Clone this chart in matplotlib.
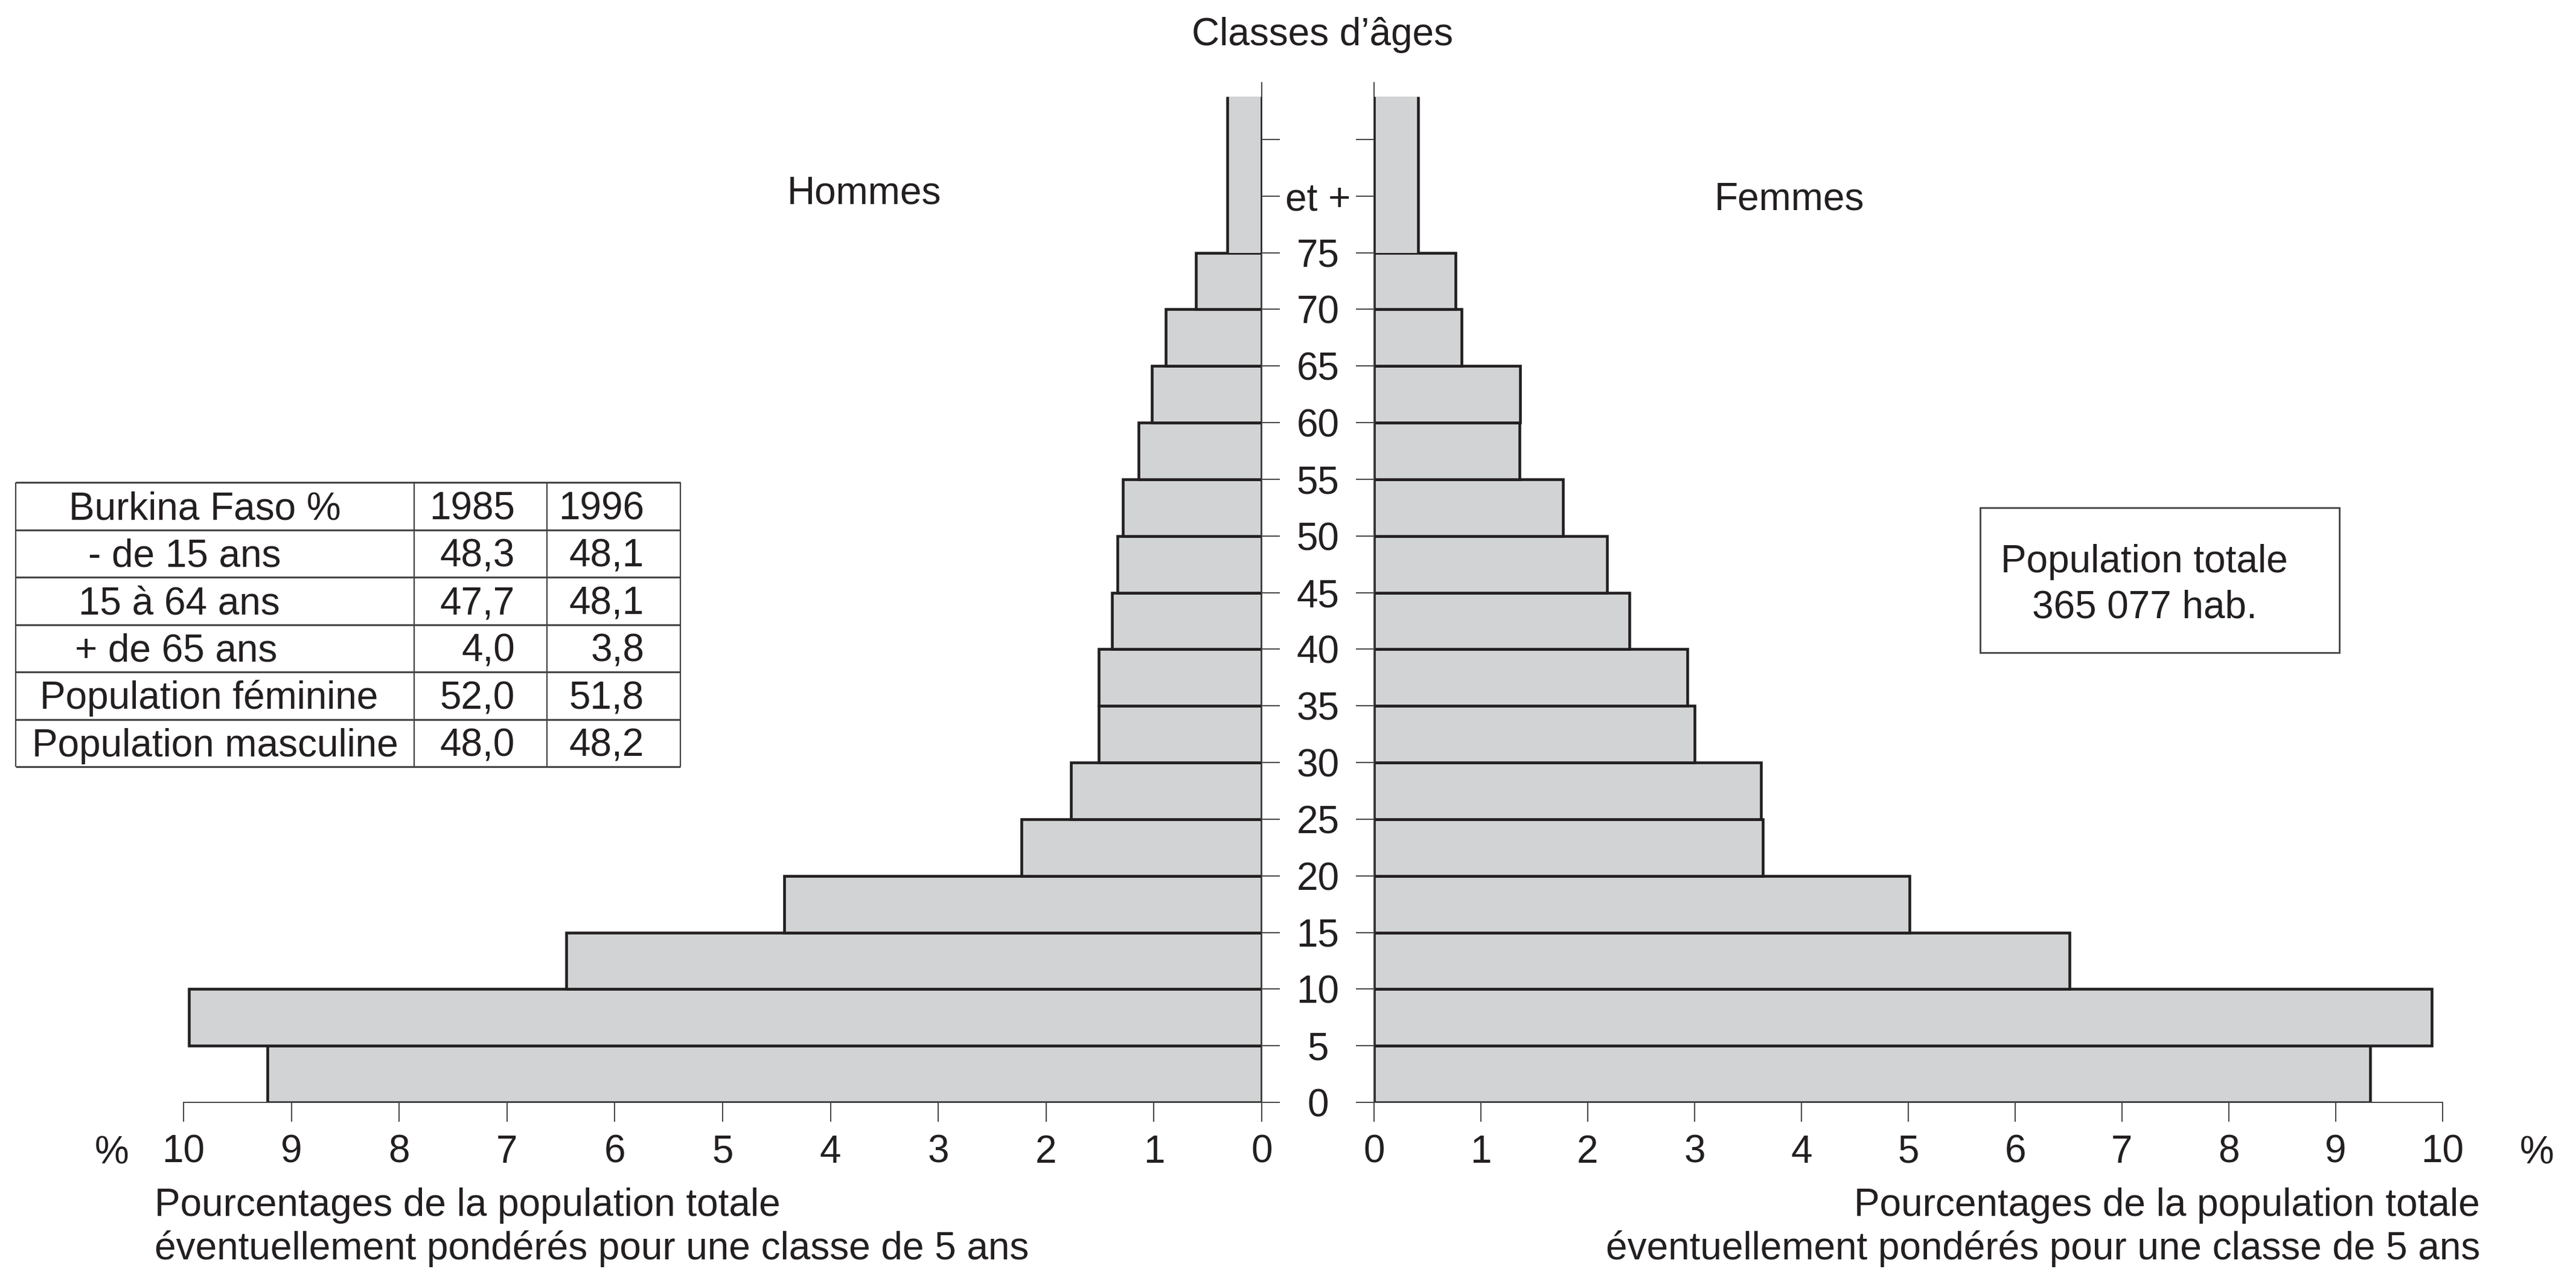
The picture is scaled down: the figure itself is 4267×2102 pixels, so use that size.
import matplotlib
matplotlib.use('Agg')
import matplotlib.pyplot as plt
from matplotlib.patches import Rectangle

plt.rcParams['font.family'] = ['Liberation Sans', 'DejaVu Sans']

# age classes (lower / upper bound of each bar, last class "75 et +" is weighted)
age_lower = [0, 5, 10, 15, 20, 25, 30, 35, 40, 45, 50, 55, 60, 65, 70, 75]
age_upper = [5, 10, 15, 20, 25, 30, 35, 40, 45, 50, 55, 60, 65, 70, 75, 88.8]
age_ticks = [0, 5, 10, 15, 20, 25, 30, 35, 40, 45, 50, 55, 60, 65, 70, 75, 80, 85]
age_labels = ['0', '5', '10', '15', '20', '25', '30', '35', '40', '45', '50',
              '55', '60', '65', '70', '75', 'et +', '']

# % of total population per class
hommes = [9.22, 9.95, 6.45, 4.43, 2.23, 1.77, 1.51, 1.51, 1.39, 1.34, 1.29,
          1.14, 1.02, 0.89, 0.61, 0.32]
femmes = [9.32, 9.90, 6.51, 5.01, 3.64, 3.62, 3.00, 2.93, 2.39, 2.18, 1.77,
          1.36, 1.37, 0.82, 0.76, 0.41]
pct_ticks = [0, 1, 2, 3, 4, 5, 6, 7, 8, 9, 10]

table_rows = ['Burkina Faso %', '- de 15 ans', '15 à 64 ans', '+ de 65 ans',
              'Population féminine', 'Population masculine']
table_1985 = ['1985', '48,3', '47,7', '4,0', '52,0', '48,0']
table_1996 = ['1996', '48,1', '48,1', '3,8', '51,8', '48,2']

W, H = 4267, 2102
FS = 46
INK = '#231f20'
FILL = '#d1d3d4'
AX = '#444444'

fig = plt.figure(figsize=(W / 100, H / 100), dpi=100)
fig.patch.set_facecolor('white')

y0, y1 = 1826, 137
ax_m = fig.add_axes([304 / W, 1 - y0 / H, 1786 / W, (y0 - y1) / H])
ax_f = fig.add_axes([2276 / W, 1 - y0 / H, 1770 / W, (y0 - y1) / H])

heights = [u - l for l, u in zip(age_lower, age_upper)]

for ax, vals in ((ax_m, hommes), (ax_f, femmes)):
    bars = ax.barh(age_lower, vals, height=heights, align='edge', color=FILL,
                   edgecolor=INK, linewidth=3.3, zorder=2)
    # open-topped last class
    bars[-1].set_edgecolor('none')
    ax.vlines([0, vals[-1]], age_lower[-1], age_upper[-1], colors=INK,
              linewidth=3.3, zorder=3)
    ax.set_ylim(0, 90)
    ax.set_yticks(age_ticks)
    ax.set_xticks(pct_ticks)
    ax.set_xticklabels([str(t) for t in pct_ticks])
    ax.tick_params(axis='x', direction='out', length=23, width=1.4,
                   color=AX, pad=15, labelsize=FS, labelcolor=INK)
    ax.tick_params(axis='y', direction='out', length=21.6, width=1.4,
                   color=AX, labelsize=FS, labelcolor=INK)
    ax.spines['top'].set_visible(False)
    for s in ax.spines.values():
        s.set_color(AX)
        s.set_linewidth(1.4)
    ax.set_facecolor('none')

ax_m.set_xlim(10, 0)
ax_m.spines['left'].set_visible(False)
ax_m.yaxis.tick_right()
ax_m.set_yticklabels([])

ax_f.set_xlim(0, 10)
ax_f.spines['right'].set_visible(False)
ax_f.set_yticklabels(age_labels)
ax_f.tick_params(axis='y', pad=45.4)
for lab in ax_f.get_yticklabels():
    lab.set_horizontalalignment('center')

# overlay in pixel coordinates for the annotations
ov = fig.add_axes([0, 0, 1, 1])
ov.set_xlim(0, W)
ov.set_ylim(H, 0)
ov.axis('off')

def txt(x, y, s, ha='center'):
    ov.text(x, y, s, ha=ha, va='baseline', fontsize=FS, color=INK)

txt(2190, 75, 'Classes d’âges')
txt(1431, 338, 'Hommes')
txt(2964, 347, 'Femmes')

ov.add_patch(Rectangle((3280, 841), 595, 240, fill=False, edgecolor=AX,
                       linewidth=2))
txt(3552, 948, 'Population totale')
txt(3552, 1023, '365 077 hab.')

txt(185, 1928, '%')
txt(4202, 1928, '%')

txt(256, 2014, 'Pourcentages de la population totale', ha='left')
txt(256, 2086, 'éventuellement pondérés pour une classe de 5 ans', ha='left')
txt(4108, 2014, 'Pourcentages de la population totale', ha='right')
txt(4108, 2086, 'éventuellement pondérés pour une classe de 5 ans', ha='right')

# summary table
tx = [26, 686, 906, 1127]
ty_top, row_h = 799, 78.5
n = len(table_rows)
ys = [ty_top + i * row_h for i in range(n + 1)]
ov.hlines(ys, tx[0], tx[-1], colors=AX, linewidth=2.2)
ov.vlines(tx, ys[0], ys[-1], colors=AX, linewidth=1.6)
first_col_x = [339, 306, 297, 292, 346, 356]
for i in range(n):
    base = ys[i] + row_h / 2 + 22
    txt(first_col_x[i], base, table_rows[i])
    txt(853, base, table_1985[i], ha='right')
    txt(1067, base, table_1996[i], ha='right')

fig.savefig('out.png', dpi=100, facecolor='white')
